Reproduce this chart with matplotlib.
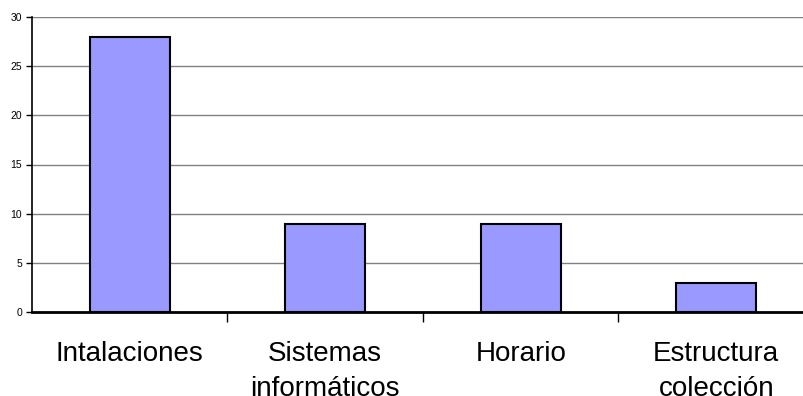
import matplotlib.pyplot as plt
import numpy as np

categorias = ['Intalaciones', 'Sistemas\ninformáticos', 'Horario', 'Estructura\ncolección']
valores = [28, 9, 9, 3]
y_ticks = [0, 5, 10, 15, 20, 25, 30]

plt.rcParams['font.family'] = ['Liberation Sans', 'DejaVu Sans']

fig = plt.figure(figsize=(8.04, 3.96), dpi=100)
# eje desde x=32 px hasta el borde derecho, y de 17 a 312 px
ax = fig.add_axes([32 / 804, (396 - 312) / 396, 1 - 32 / 804, (312 - 17) / 396])

x = np.arange(len(categorias))
ax.bar(x, valores, width=0.41, color='#9999FF', edgecolor='black', linewidth=1.5, zorder=3)

ax.set_yticks(y_ticks)
ax.set_yticklabels([str(v) for v in y_ticks], fontsize=7.5)
ax.tick_params(axis='y', length=4, width=1, pad=3, direction='out')

for v in y_ticks[1:]:
    ax.axhline(v, color='#808080', linewidth=1, zorder=1)

# ticks entre categorias, etiquetas centradas
ax.set_xticks(np.arange(len(categorias) - 1) + 0.5)
ax.set_xticklabels([])
ax.tick_params(axis='x', which='major', length=7, width=1, direction='out')
ax.set_xticks(x, minor=True)
ax.set_xticklabels(categorias, minor=True, fontsize=20, linespacing=1.43)
ax.tick_params(axis='x', which='minor', length=0, pad=21)

ax.set_ylim(0, 30)
ax.set_xlim(-0.5, (804 - 32) / 195.5 - 0.5)

for s in ['top', 'right']:
    ax.spines[s].set_visible(False)
ax.spines['bottom'].set_linewidth(2)
ax.spines['left'].set_linewidth(1.2)
ax.spines['bottom'].set_zorder(4)

fig.savefig('out.png', dpi=100)
